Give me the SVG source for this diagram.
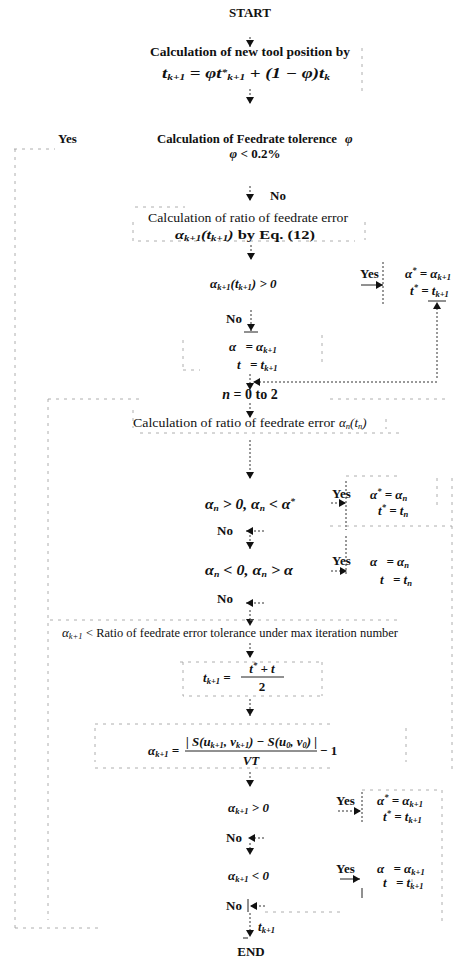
<svg xmlns="http://www.w3.org/2000/svg" width="454" height="966" viewBox="0 0 454 966">
<style>
.t{font-family:"Liberation Serif","Times New Roman",serif;font-size:13px;font-weight:bold;fill:#111}
.r{font-weight:normal}
.m{font-style:italic}
.s{font-size:8.5px}
.big{font-size:14px}
.c{fill:none;stroke:#333;stroke-width:1;stroke-dasharray:2 2}
.f{fill:none;stroke:#999;stroke-width:0.8;stroke-dasharray:3 5}
.solid{fill:none;stroke:#222;stroke-width:1}
</style>
<defs>
<marker id="ah" markerUnits="userSpaceOnUse" markerWidth="7" markerHeight="8" refX="7" refY="4" orient="auto">
<path d="M0,0 L7,4 L0,8 Z" fill="#111"/>
</marker>
</defs>
<rect width="454" height="966" fill="#fff"/>

<g id="connectors">
<line class="c" x1="250" y1="37" x2="250" y2="47" marker-end="url(#ah)"/>
<line class="c" x1="250" y1="89" x2="250" y2="104" marker-end="url(#ah)"/>
<line class="c" x1="250" y1="186" x2="250" y2="201" marker-end="url(#ah)"/>
<line class="c" x1="251" y1="245" x2="251" y2="260" marker-end="url(#ah)"/>
<line class="c" x1="251" y1="310" x2="251" y2="331" marker-end="url(#ah)"/>
<line class="solid" x1="244" y1="332" x2="258" y2="332"/>
<line class="c" x1="250" y1="374" x2="250" y2="390" marker-end="url(#ah)"/>
<line class="c" x1="250" y1="403" x2="250" y2="418" marker-end="url(#ah)"/>
<line class="c" x1="250" y1="440" x2="250" y2="479" marker-end="url(#ah)"/>
<line class="c" x1="250" y1="535" x2="250" y2="549" marker-end="url(#ah)"/>
<line class="c" x1="250" y1="610" x2="250" y2="626" marker-end="url(#ah)"/>
<line class="c" x1="250" y1="643" x2="250" y2="658" marker-end="url(#ah)"/>
<line class="c" x1="250" y1="699" x2="250" y2="716" marker-end="url(#ah)"/>
<line class="c" x1="250" y1="772" x2="250" y2="787" marker-end="url(#ah)"/>
<line class="c" x1="250" y1="843" x2="250" y2="855" marker-end="url(#ah)"/>
<line class="c" x1="250" y1="913" x2="250" y2="937" marker-end="url(#ah)"/>
<line class="solid" x1="243" y1="938" x2="248" y2="938"/>

<line class="solid" x1="361" y1="285" x2="383" y2="285" marker-end="url(#ah)"/>
<line class="c" x1="383" y1="262" x2="383" y2="306"/>
<line class="solid" x1="428" y1="301" x2="446" y2="301"/>
<line class="c" x1="437" y1="378" x2="437" y2="302" marker-end="url(#ah)"/>
<line class="c" x1="437" y1="382" x2="253" y2="382" marker-end="url(#ah)"/>

<line class="c" x1="331" y1="503" x2="346" y2="503" marker-end="url(#ah)"/>
<line class="c" x1="346" y1="481" x2="346" y2="530"/>
<line class="c" x1="331" y1="571" x2="347" y2="571" marker-end="url(#ah)"/>
<line class="c" x1="346" y1="536" x2="346" y2="576"/>
<line class="c" x1="338" y1="811" x2="361" y2="811" marker-end="url(#ah)"/>
<line class="c" x1="362" y1="792" x2="362" y2="822"/>
<line class="solid" x1="340" y1="879" x2="360" y2="879" marker-end="url(#ah)"/>
<line class="solid" x1="362" y1="888" x2="362" y2="898"/>

<line class="c" x1="264" y1="531" x2="246" y2="531" marker-end="url(#ah)"/>
<line class="c" x1="264" y1="603" x2="246" y2="603" marker-end="url(#ah)"/>
<line class="c" x1="264" y1="838" x2="248" y2="838" marker-end="url(#ah)"/>
<line class="c" x1="265" y1="906" x2="250" y2="906" marker-end="url(#ah)"/>
<line class="solid" x1="248" y1="899" x2="248" y2="912"/>

<line class="f" x1="14" y1="149" x2="55" y2="149"/>
<line class="f" x1="15" y1="149" x2="15" y2="928"/>
<line class="f" x1="15" y1="928" x2="100" y2="928"/>
<line class="f" x1="48" y1="399" x2="140" y2="399"/>
<line class="f" x1="48" y1="399" x2="48" y2="920"/>
<line class="f" x1="330" y1="399" x2="448" y2="399"/>
<line class="f" x1="452" y1="478" x2="452" y2="770"/>
<line class="f" x1="442" y1="790" x2="442" y2="925"/>
<line class="f" x1="265" y1="912" x2="345" y2="912"/>
</g>

<g id="start">
<text class="t" x="250" y="17" text-anchor="middle">START</text>
</g>

<g id="newpos">
<text class="t" x="150" y="56" textLength="200" lengthAdjust="spacingAndGlyphs">Calculation of new tool position by</text>
<text class="t m big" x="162" y="78" textLength="168" lengthAdjust="spacingAndGlyphs">t<tspan class="s" dy="2">k+1</tspan><tspan dy="-2"> = φt</tspan><tspan class="s" dy="-3">*</tspan><tspan class="s" dy="5">k+1</tspan><tspan dy="-2"> + (1 − φ)t</tspan><tspan class="s" dy="2">k</tspan></text>
<line class="f" x1="362" y1="48" x2="362" y2="92"/>
</g>

<g id="tolerance">
<text class="t" x="157" y="143" textLength="180" lengthAdjust="spacingAndGlyphs">Calculation of Feedrate tolerence</text>
<text class="t m" x="345" y="143">φ</text>
<text class="t" x="255" y="158" text-anchor="middle"><tspan class="m">φ</tspan> &lt; 0.2%</text>
<text class="t" x="58" y="143">Yes</text>
<text class="t" x="270" y="200">No</text>
</g>

<g id="ratio1">
<path class="f" d="M135,207 H185 M133,222 V241 H355 M365,222 V240"/>
<text class="t r" x="148" y="222" textLength="200" lengthAdjust="spacingAndGlyphs">Calculation of ratio of feedrate error</text>
<text class="t" x="175" y="239" textLength="140" lengthAdjust="spacingAndGlyphs"><tspan class="m">α</tspan><tspan class="s m" dy="2">k+1</tspan><tspan class="m" dy="-2">(t</tspan><tspan class="s m" dy="2">k+1</tspan><tspan class="m" dy="-2">)</tspan> by Eq. (12)</text>
</g>

<g id="check1">
<text class="t m" x="210" y="288">α<tspan class="s" dy="2">k+1</tspan><tspan dy="-2">(t</tspan><tspan class="s" dy="2">k+1</tspan><tspan dy="-2">) &gt; 0</tspan></text>
<text class="t" x="360" y="278">Yes</text>
<text class="t" x="226" y="323">No</text>
</g>

<g id="assignStar1">
<text class="t m" x="405" y="278">α<tspan class="s" dy="-5">*</tspan><tspan dy="5"> = α</tspan><tspan class="s" dy="2">k+1</tspan></text>
<text class="t m" x="410" y="295">t<tspan class="s" dy="-5">*</tspan><tspan dy="5"> = t</tspan><tspan class="s" dy="2">k+1</tspan></text>
</g>

<g id="assign1">
<path class="f" d="M183,340 V372 M322,335 V366 M183,370 H200"/>
<text class="t m" x="229" y="351">α<tspan dx="6"> = α</tspan><tspan class="s" dy="2">k+1</tspan></text>
<text class="t m" x="237" y="369">t<tspan dx="6"> = t</tspan><tspan class="s" dy="2">k+1</tspan></text>
</g>

<g id="loopn">
<text class="t big" x="250" y="399" text-anchor="middle"><tspan class="m">n</tspan> = 0 to 2</text>
</g>

<g id="ratio2">
<path class="f" d="M133,410 V428 M140,433 H400 M386,419 V429"/>
<text class="t r" x="133" y="427" textLength="202" lengthAdjust="spacingAndGlyphs">Calculation of ratio of feedrate error</text>
<text class="t r m" x="339" y="427">α<tspan class="s" dy="2">n</tspan><tspan dy="-2">(t</tspan><tspan class="s" dy="2">n</tspan><tspan dy="-2">)</tspan></text>
</g>

<g id="check2">
<text class="t m big" x="205" y="509" textLength="90" lengthAdjust="spacingAndGlyphs">α<tspan class="s" dy="2">n</tspan><tspan dy="-2"> &gt; 0, α</tspan><tspan class="s" dy="2">n</tspan><tspan dy="-2"> &lt; α</tspan><tspan class="s" dy="-5">*</tspan></text>
<text class="t" x="332" y="498">Yes</text>
<text class="t" x="217" y="535">No</text>
</g>

<g id="assignStar2">
<path class="f" d="M346,476 H400 M437,478 V506 M330,526 H452"/>
<text class="t m" x="370" y="499">α<tspan class="s" dy="-5">*</tspan><tspan dy="5"> = α</tspan><tspan class="s" dy="2">n</tspan></text>
<text class="t m" x="378" y="515">t<tspan class="s" dy="-5">*</tspan><tspan dy="5"> = t</tspan><tspan class="s" dy="2">n</tspan></text>
</g>

<g id="check3">
<text class="t m big" x="205" y="575" textLength="88" lengthAdjust="spacingAndGlyphs">α<tspan class="s" dy="2">n</tspan><tspan dy="-2"> &lt; 0, α</tspan><tspan class="s" dy="2">n</tspan><tspan dy="-2"> &gt; α</tspan></text>
<text class="t" x="332" y="565">Yes</text>
<text class="t" x="217" y="603">No</text>
</g>

<g id="assign2">
<text class="t m" x="370" y="566">α<tspan dx="6"> = α</tspan><tspan class="s" dy="2">n</tspan></text>
<text class="t m" x="380" y="584">t<tspan dx="6"> = t</tspan><tspan class="s" dy="2">n</tspan></text>
</g>

<g id="check4">
<path class="f" d="M50,620 H400"/>
<text class="t r m" x="62" y="637">α<tspan class="s" dy="2">k+1</tspan></text>
<text class="t r" x="86" y="637" textLength="312" lengthAdjust="spacingAndGlyphs">&lt; Ratio of feedrate error tolerance under max iteration number</text>
</g>

<g id="bisect">
<path class="f" d="M180,662 H320 M183,662 V696 H320 M322,662 V696"/>
<text class="t m" x="203" y="682">t<tspan class="s" dy="2">k+1</tspan><tspan dy="-2"> =</tspan></text>
<text class="t m" x="262" y="673" text-anchor="middle">t<tspan class="s" dy="-5">*</tspan><tspan dy="5"> + t</tspan></text>
<line class="solid" x1="241" y1="677" x2="284" y2="677"/>
<text class="t" x="262" y="691" text-anchor="middle">2</text>
</g>

<g id="errorcalc">
<path class="f" d="M95,724 H330 M95,728 V762 M406,728 V762 M95,768 H330"/>
<text class="t m" x="148" y="755">α<tspan class="s" dy="2">k+1</tspan><tspan dy="-2"> =</tspan></text>
<text class="t m" x="186" y="746" textLength="131" lengthAdjust="spacingAndGlyphs">| S(u<tspan class="s" dy="2">k+1</tspan><tspan dy="-2">, v</tspan><tspan class="s" dy="2">k+1</tspan><tspan dy="-2">) − S(u</tspan><tspan class="s" dy="2">0</tspan><tspan dy="-2">, v</tspan><tspan class="s" dy="2">0</tspan><tspan dy="-2">) |</tspan></text>
<line class="solid" x1="185" y1="751" x2="317" y2="751"/>
<text class="t m" x="251" y="765" text-anchor="middle">VT</text>
<text class="t" x="320" y="755">− 1</text>
</g>

<g id="check5">
<text class="t m" x="228" y="812">α<tspan class="s" dy="2">k+1</tspan><tspan dy="-2"> &gt; 0</tspan></text>
<text class="t" x="336" y="805">Yes</text>
<text class="t" x="226" y="842">No</text>
</g>

<g id="assignStar3">
<path class="f" d="M362,790 H440"/>
<text class="t m" x="377" y="805">α<tspan class="s" dy="-5">*</tspan><tspan dy="5"> = α</tspan><tspan class="s" dy="2">k+1</tspan></text>
<text class="t m" x="383" y="821">t<tspan class="s" dy="-5">*</tspan><tspan dy="5"> = t</tspan><tspan class="s" dy="2">k+1</tspan></text>
</g>

<g id="check6">
<text class="t m" x="228" y="880">α<tspan class="s" dy="2">k+1</tspan><tspan dy="-2"> &lt; 0</tspan></text>
<text class="t" x="336" y="873">Yes</text>
<text class="t" x="226" y="910">No</text>
</g>

<g id="assign3">
<text class="t m" x="377" y="873">α<tspan dx="6"> = α</tspan><tspan class="s" dy="2">k+1</tspan></text>
<text class="t m" x="383" y="887">t<tspan dx="6"> = t</tspan><tspan class="s" dy="2">k+1</tspan></text>
<line class="f" x1="412" y1="879" x2="412" y2="889"/>
</g>

<g id="output">
<text class="t m" x="258" y="931">t<tspan class="s" dy="2">k+1</tspan></text>
</g>

<g id="end">
<text class="t" x="251" y="956" text-anchor="middle">END</text>
</g>
</svg>
